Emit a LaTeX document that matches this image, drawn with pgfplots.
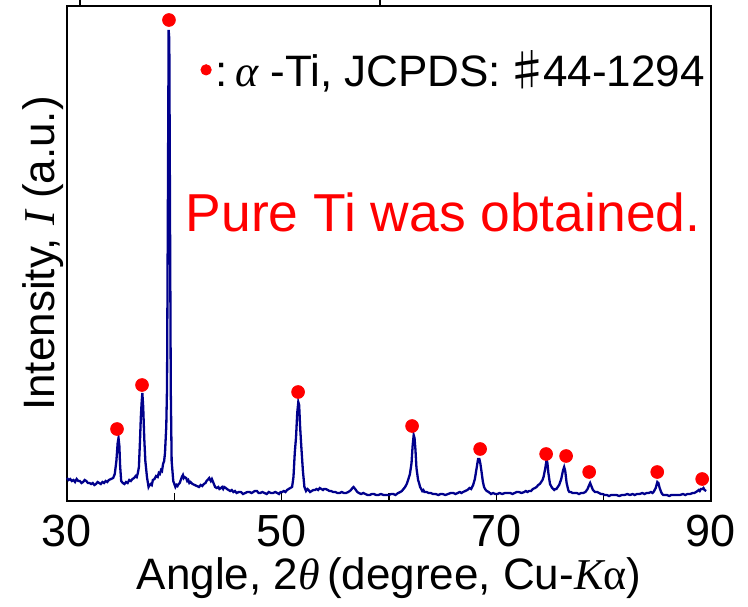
\documentclass[border=0pt]{standalone}
\usepackage{fontspec}
\setmainfont{Liberation Sans}
\newfontfamily\timesf{Liberation Serif}
\newfontfamily\cjk{Noto Sans CJK JP}
\usepackage{pgfplots}
\pgfplotsset{compat=1.18}
\definecolor{navyline}{RGB}{0,0,140}

\pgfplotstableread{
x y
30.0 23
30.15 21
30.3 22
30.45 20
30.6 21
30.75 19
30.9 22
31.05 20
31.2 20
31.35 18
31.5 19
31.65 21
31.8 20
31.95 18
32.1 18
32.25 17
32.4 18
32.55 16
32.7 17
32.85 19
33.0 18
33.15 17
33.3 19
33.45 18
33.6 20
33.75 19
33.9 21
34.1 22
34.3 23
34.45 27
34.6 40
34.72 58
34.8 63
34.88 55
34.95 35
35.05 20
35.2 18
35.35 17
35.5 19
35.65 18
35.8 21
35.95 20
36.1 22
36.25 23
36.4 25
36.5 24
36.6 28
36.7 34
36.8 60
36.88 84
36.95 98
37.02 108
37.1 94
37.2 62
37.3 40
37.45 24
37.6 14
37.7 16
37.8 17
37.9 16
38.0 21
38.15 22
38.3 25
38.45 24
38.55 28
38.65 27
38.76 31
38.85 30
38.95 37
39.05 40
39.13 48
39.25 75
39.32 114
39.4 300
39.47 471
39.53 462
39.6 280
39.67 110
39.75 40
39.9 20
40.1 14
40.2 16
40.3 15
40.4 17
40.5 18
40.6 21
40.7 24
40.8 26
40.88 23
40.95 24
41.1 23
41.2 20
41.3 21
41.4 18
41.5 19
41.7 17
41.9 16
42.1 15
42.3 14
42.45 16
42.6 15
42.75 17
42.9 18
43.0 20
43.1 21
43.25 23
43.4 20
43.5 22
43.65 18
43.8 14
43.95 13
44.1 14
44.2 12
44.35 13
44.45 14
44.55 12
44.65 14
44.8 13
44.9 12
45.05 11
45.2 10
45.35 11
45.5 9
45.65 10
45.8 8
46.0 9
46.2 9
46.4 7
46.6 8
46.8 9
47.0 9
47.2 8
47.35 9
47.5 10
47.7 10
47.85 8
48.0 8
48.2 9
48.4 8
48.6 7
48.8 9
49.0 8
49.2 8
49.4 9
49.6 8
49.75 7
49.9 9
50.05 9
50.2 10
50.35 9
50.5 11
50.65 12
50.8 13
50.97 14
51.1 24
51.22 48
51.34 64
51.45 88
51.55 99
51.63 96
51.72 74
51.85 51
51.98 30
52.12 14
52.27 10
52.4 12
52.5 11
52.65 9
52.8 10
52.95 11
53.1 11
53.25 12
53.4 11
53.55 13
53.7 12
53.85 11
53.95 12
54.1 12
54.3 11
54.45 10
54.6 10
54.8 9
55.0 9
55.2 8
55.4 8
55.6 9
55.8 8
56.0 8
56.2 9
56.35 10
56.45 11
56.6 13
56.7 14
56.85 12
57.05 9
57.2 8
57.4 7
57.6 8
57.8 7
58.0 6
58.2 6
58.4 7
58.6 7
58.8 6
59.0 6
59.25 7
59.5 6
59.75 6
60.0 6
60.2 7
60.4 7
60.6 6
60.85 8
61.05 9
61.2 10
61.35 12
61.5 14
61.65 17
61.78 21
61.95 27
62.1 38
62.2 55
62.3 66
62.38 63
62.46 52
62.56 33
62.71 21
62.8 18
62.9 14
63.0 12
63.1 10
63.2 11
63.3 9
63.5 9
63.7 8
63.9 8
64.1 7
64.35 7
64.6 6
64.8 7
65.0 7
65.25 6
65.5 7
65.75 8
66.0 8
66.2 7
66.4 8
66.6 9
66.75 8
66.9 9
67.1 10
67.3 11
67.5 13
67.65 12
67.84 16
68.0 22
68.15 32
68.3 42
68.42 42
68.52 37
68.65 27
68.75 19
68.86 14
68.95 12
69.1 10
69.3 9
69.5 7
69.7 8
69.9 7
70.1 7
70.3 8
70.55 7
70.8 8
71.05 8
71.3 8
71.5 7
71.7 8
71.9 9
72.1 9
72.35 8
72.6 9
72.75 10
72.9 9
73.05 10
73.24 10
73.4 12
73.6 13
73.75 14
73.9 16
74.05 17
74.18 19
74.3 21
74.4 24
74.55 32
74.68 41
74.76 38
74.85 28
75.0 17
75.1 15
75.2 13
75.3 12
75.39 11
75.5 12
75.6 12
75.72 14
75.85 16
76.05 22
76.2 30
76.32 34
76.42 30
76.55 18
76.7 11
76.8 9
76.95 9
77.1 8
77.3 8
77.5 8
77.7 7
77.9 8
78.1 8
78.3 9
78.5 12
78.65 16
78.74 18
78.85 15
79.0 11
79.1 10
79.2 9
79.4 9
79.58 8
79.75 7
79.9 7
80.1 6
80.3 6
80.5 5
80.7 6
80.95 6
81.2 6
81.45 5
81.7 6
81.95 6
82.2 7
82.45 6
82.7 7
82.9 6
83.1 7
83.35 7
83.6 8
83.8 7
84.0 8
84.2 8
84.4 9
84.55 8
84.65 9
84.75 11
84.85 13
85.0 19
85.1 18
85.22 13
85.35 9
85.45 7
85.55 6
85.75 6
85.9 6
86.1 5
86.3 6
86.55 6
86.8 6
87.1 6
87.4 7
87.6 6
87.8 7
88.05 7
88.3 8
88.45 8
88.6 9
88.75 10
88.85 11
88.95 10
89.05 12
89.2 12
89.3 13
89.4 11
89.55 10
}\xrd

\pgfplotstableread{
x y
34.66 72
36.99 116
39.5 481
51.53 109
62.15 75
68.49 52
74.64 47
76.5 45
78.65 29
84.99 29
89.18 22
}\peaks

\begin{document}
\begin{tikzpicture}
\useasboundingbox (-33.5pt,-52.5pt) rectangle (340.5pt,250.5pt);
\begin{axis}[
 scale only axis,width=322pt,height=247.5pt,
 xmin=30,xmax=90,ymin=0,ymax=495,
 axis line style={line width=1.3pt},
 xtick={30,40,...,90},xticklabels={30,,50,,70,,90},
 ytick=\empty,
 xtick pos=left,tick align=inside,major tick length=4pt,
 tick style={line width=0.8pt,black},
 /pgf/number format/assume math mode=true,
 ticklabel style={font=\fontsize{22.5}{26}\selectfont},
 xticklabel style={yshift=-6pt,inner sep=1pt},
 xlabel={Angle, 2{\timesf\itshape θ}\,(degree, Cu-{\timesf\itshape K}{\timesf α})},
 ylabel={Intensity, {\timesf\itshape I} (a.u.)},
 label style={font=\fontsize{22}{25}\selectfont},
 xlabel style={yshift=-4pt,inner sep=0pt},
 ylabel style={yshift=-2pt},
 legend style={at={(0.997,0.871)},anchor=east,draw=none,fill=none,
   inner sep=0pt,font=\fontsize{22}{26}\selectfont},
 legend image code/.code={\fill[red] (0pt,0pt) circle (2.6pt);},
 clip=false,
]
\addplot[navyline,line width=1.15pt,forget plot] table[x=x,y=y] {\xrd};
\addplot[only marks,mark=*,mark size=3.2pt,red] table[x=x,y=y] {\peaks};
\addlegendentry{:\,{\timesf\itshape α} -Ti, JCPDS:\kern2pt{\cjk ♯}\kern-3pt 44-1294}
\node[red,font=\fontsize{26.7}{30}\selectfont] at (rel axis cs:0.584,0.584) {Pure Ti was obtained.};
\end{axis}
\draw[line width=1.2pt] (6.5pt,247.5pt) -- (6.5pt,251pt);
\draw[line width=1.2pt] (156.5pt,247.5pt) -- (156.5pt,251pt);
\end{tikzpicture}
\end{document}
